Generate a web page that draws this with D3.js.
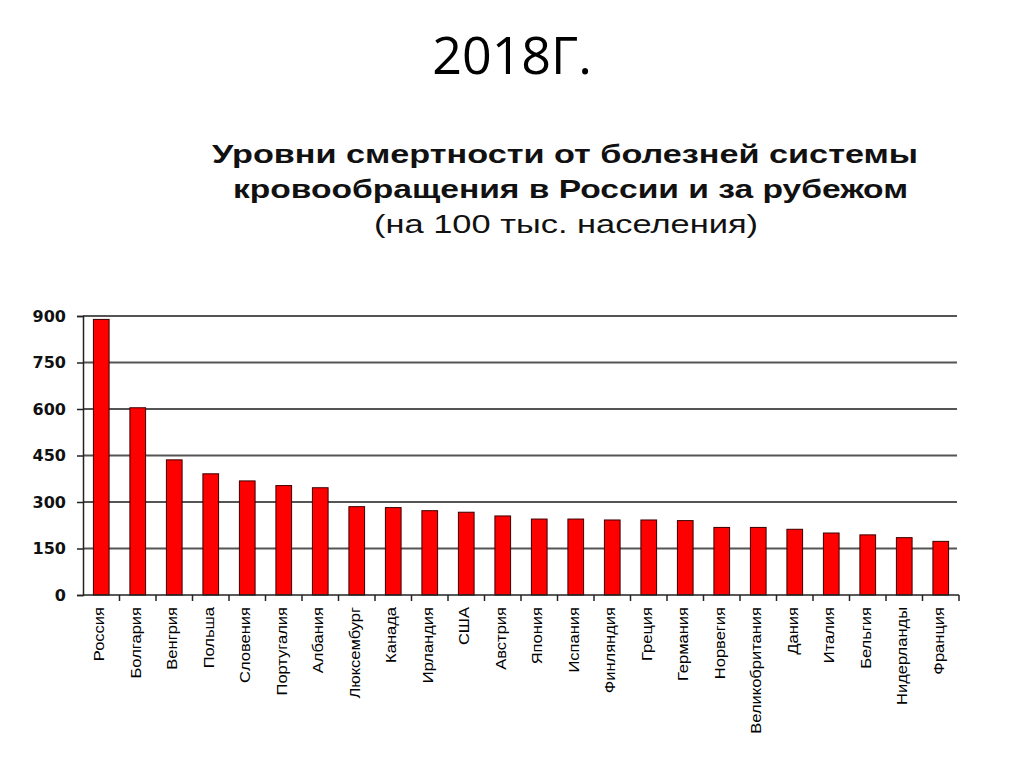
<!DOCTYPE html>
<html lang="ru">
<head>
<meta charset="UTF-8">
<title>2018Г.</title>
<script src="https://cdn.jsdelivr.net/npm/d3@7"></script>
<style>
  body { margin: 0; background: #fff; }
</style>
</head>
<body>
<div id="chart"></div>
<script>

// categories and values (per 100k population)
var countries = ["Россия", "Болгария", "Венгрия", "Польша", "Словения", "Португалия", "Албания",
    "Люксембург", "Канада", "Ирландия", "США", "Австрия", "Япония", "Испания", "Финляндия",
    "Греция", "Германия", "Норвегия", "Великобритания", "Дания", "Италия", "Бельгия",
    "Нидерланды", "Франция"];
var rates = [889, 604, 436, 391, 368, 353, 346, 285, 282, 272, 267, 255, 245, 245, 242,
    242, 240, 218, 218, 212, 200, 194, 185, 173];
var yTicks = [0, 150, 300, 450, 600, 750, 900];

var slideTitle = "2018Г.";
var titleLines = ["Уровни смертности от болезней системы",
    "кровообращения в России и за рубежом"];
var subTitle = "(на 100 тыс. населения)";

var width = 1024,
    height = 767;

var svg = d3.select("#chart").append("svg")
    .attr("width", width)
    .attr("height", height);

// slide title
svg.append("text")
    .attr("x", 512)
    .attr("y", 74)
    .attr("text-anchor", "middle")
    .style("font-family", "'Open Sans', sans-serif")
    .style("font-size", "52px")
    .text(slideTitle);

// chart title, stretched a bit like the picture
titleLines.forEach(function(t, i) {
    svg.append("text")
        .attr("x", i == 0 ? 212 : 233)
        .attr("y", 163 + i * 35)
        .attr("textLength", i == 0 ? 706 : 675)
        .attr("lengthAdjust", "spacingAndGlyphs")
        .style("font-family", "'Liberation Sans', Arial, sans-serif")
        .style("font-weight", "bold")
        .style("font-size", "25px")
        .style("fill", "#111")
        .text(t);
});
svg.append("text")
    .attr("x", 374)
    .attr("y", 233)
    .attr("textLength", 384)
    .attr("lengthAdjust", "spacingAndGlyphs")
    .style("font-family", "'Liberation Sans', Arial, sans-serif")
    .style("font-size", "25px")
    .style("fill", "#111")
    .text(subTitle);

// scales
var x = d3.scaleBand()
    .domain(countries)
    .range([83, 959])
    .paddingInner(0.57)
    .paddingOuter(0.285);

var y = d3.scaleLinear()
    .domain([0, 900])
    .range([595, 316]);

// gridlines
svg.append("g")
    .selectAll("line")
    .data(yTicks.filter(function(d) { return d > 0; }))
    .enter()
    .append("line")
    .attr("x1", 83)
    .attr("x2", 957)
    .attr("y1", function(d) { return y(d); })
    .attr("y2", function(d) { return y(d); })
    .attr("stroke", "#555")
    .attr("stroke-width", 2);

// bars
svg.append("g")
    .selectAll("rect")
    .data(rates)
    .enter()
    .append("rect")
    .attr("x", function(d, i) { return x(countries[i]); })
    .attr("y", function(d) { return y(d); })
    .attr("width", x.bandwidth())
    .attr("height", function(d) { return y(0) - y(d); })
    .attr("fill", "#ff0000")
    .attr("stroke", "#3a0000")
    .attr("stroke-width", 1);

// y axis
var yAxis = svg.append("g")
    .attr("transform", "translate(83,0)")
    .call(d3.axisLeft(y).tickValues(yTicks).tickSize(6).tickPadding(11));
yAxis.select(".domain").attr("stroke", "#222").attr("stroke-width", 1.5);
yAxis.selectAll(".tick line").attr("stroke", "#222").attr("stroke-width", 1.5);
yAxis.selectAll("text")
    .style("font-family", "'DejaVu Sans', Verdana, sans-serif")
    .style("font-weight", "bold")
    .style("font-size", "16px")
    .style("fill", "#111");

// x axis: ticks sit between categories
var xAxis = svg.append("g")
    .attr("transform", "translate(0,595)");
xAxis.append("line")
    .attr("x1", 83)
    .attr("x2", 959)
    .attr("stroke", "#222")
    .attr("stroke-width", 1.5);
xAxis.selectAll(".sep")
    .data(countries)
    .enter()
    .append("line")
    .attr("class", "sep")
    .attr("x1", function(d) { return x(d) + x.bandwidth() / 2 + x.step() / 2; })
    .attr("x2", function(d) { return x(d) + x.bandwidth() / 2 + x.step() / 2; })
    .attr("y1", 0)
    .attr("y2", 6)
    .attr("stroke", "#222")
    .attr("stroke-width", 1.5);
// labels are drawn stretched lengthwise, as in the picture
xAxis.selectAll(".lbl")
    .data(countries)
    .enter()
    .append("text")
    .attr("class", "lbl")
    .attr("transform", function(d) {
        return "translate(" + (x(d) + x.bandwidth() / 2 + 3) + ",12) rotate(-90) scale(1.18,1)";
    })
    .attr("text-anchor", "end")
    .style("font-family", "'Liberation Sans', Arial, sans-serif")
    .style("font-size", "14px")
    .style("fill", "#000")
    .text(function(d) { return d; });

</script>
</body>
</html>
